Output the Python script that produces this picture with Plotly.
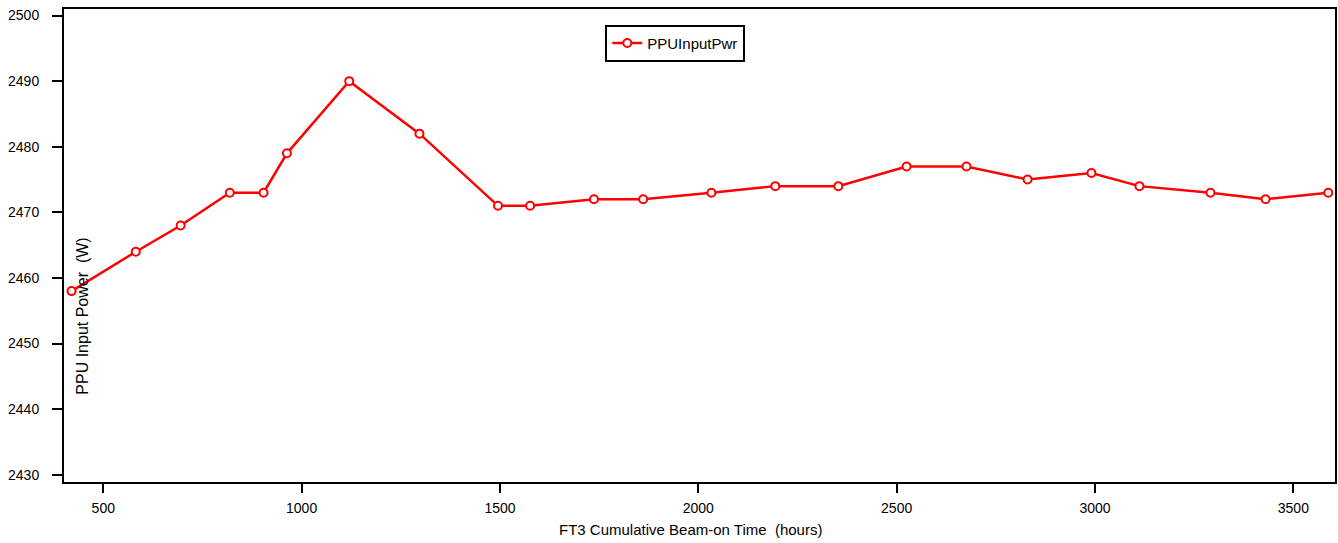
import plotly.graph_objects as go

hours = [420, 582, 695, 819, 904, 963, 1120, 1297, 1495, 1576, 1737, 1861,
         2033, 2194, 2353, 2525, 2676, 2830, 2991, 3112, 3291, 3430, 3588]
ppu_input_pwr = [2458, 2464, 2468, 2473, 2473, 2479, 2490, 2482, 2471, 2471,
                 2472, 2472, 2473, 2474, 2474, 2477, 2477, 2475, 2476, 2474,
                 2473, 2472, 2473]
series_name = "PPUInputPwr"
x_title = "FT3 Cumulative Beam-on Time  (hours)"
y_title = "PPU Input Power  (W)"
x_ticks = [500, 1000, 1500, 2000, 2500, 3000, 3500]
y_ticks = [2430, 2440, 2450, 2460, 2470, 2480, 2490, 2500]

FONT = "Liberation Sans, Arial, sans-serif"

fig = go.Figure()
fig.add_trace(go.Scatter(
    x=hours, y=ppu_input_pwr, name=series_name, mode="lines+markers",
    line=dict(color="#ff0000", width=2.5),
    marker=dict(symbol="circle", size=8, color="white",
                line=dict(color="#ff0000", width=2)),
))

axis_common = dict(showline=True, linecolor="black", linewidth=2, mirror=True,
                   ticks="outside", tickcolor="black", tickwidth=2,
                   showgrid=False, zeroline=False,
                   tickfont=dict(family=FONT, size=14, color="black"))

fig.update_layout(
    width=1338, height=543,
    margin=dict(l=64, r=1, t=9, b=61),
    paper_bgcolor="white", plot_bgcolor="white",
    font=dict(family=FONT, size=14, color="black"),
    showlegend=True,
    legend=dict(x=(606 - 64) / 1272.7, y=(482.3 - 25) / 473,
                xanchor="left", yanchor="top",
                bordercolor="black", borderwidth=2, bgcolor="white",
                font=dict(family=FONT, size=15, color="black"),
                itemwidth=30, tracegroupgap=0),
    xaxis=dict(range=[401, 3605], tickvals=x_ticks, ticklen=9,
               ticklabelstandoff=3, **axis_common),
    yaxis=dict(range=[2428.9, 2501], tickvals=y_ticks, ticklen=10,
               ticklabelstandoff=10, **axis_common),
    annotations=[
        dict(text=x_title, xref="paper", yref="paper", x=(691.5 - 64) / 1272.7,
             y=0, yshift=-47, xanchor="center", yanchor="middle",
             showarrow=False, font=dict(family=FONT, size=15, color="black")),
        dict(text=y_title, xref="paper", yref="paper", x=(83 - 64) / 1272.7,
             y=(482.3 - 316) / 473, textangle=-90, xanchor="center",
             yanchor="middle", showarrow=False,
             font=dict(family=FONT, size=16, color="black")),
    ],
)

fig.write_html("out.html",
               config={"displayModeBar": False},
               post_script="document.body.style.margin='0';"
                           "document.body.style.overflow='hidden';")
